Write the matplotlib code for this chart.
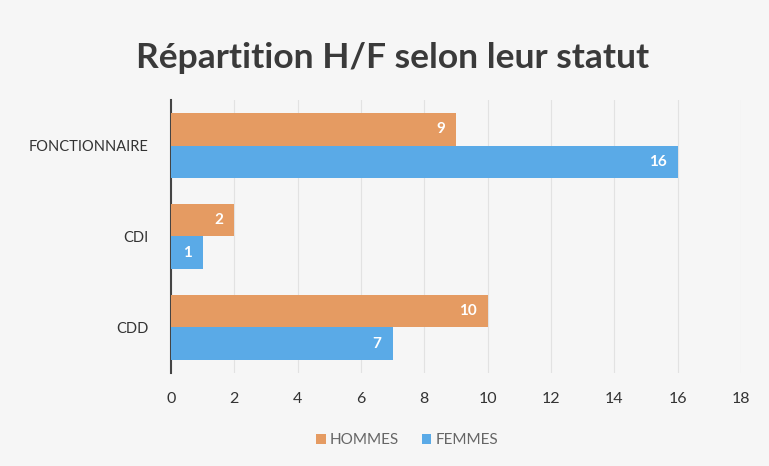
import matplotlib.pyplot as plt
import numpy as np

categories = ['CDD', 'CDI', 'FONCTIONNAIRE']
hommes = [10, 2, 9]
femmes = [7, 1, 16]
xticks = [0, 2, 4, 6, 8, 10, 12, 14, 16, 18]

orange = '#E59B62'
blue = '#5AAAE7'

plt.rcParams['font.family'] = ['Lato', 'DejaVu Sans']

fig = plt.figure(figsize=(7.69, 4.66), dpi=100, facecolor='#f6f6f6')
ax = fig.add_axes([0.2224, 0.2, 0.7412, 0.585])
ax.set_facecolor('#f6f6f6')

y = np.arange(len(categories))
h = 0.36
bh = ax.barh(y + h / 2, hommes, height=h, color=orange, label='HOMMES', zorder=3)
bf = ax.barh(y - h / 2, femmes, height=h, color=blue, label='FEMMES', zorder=3)

for bars in (bh, bf):
    for rect in bars:
        w = rect.get_width()
        ax.text(w - 0.35, rect.get_y() + rect.get_height() / 2, str(int(w)),
                ha='right', va='center', color='white', fontweight='bold',
                fontsize=11, zorder=4)

ax.set_xlim(0, 18)
ax.set_ylim(-0.5, 2.5)
ax.set_xticks(xticks)
ax.set_yticks(y)
ax.set_yticklabels(categories)
ax.tick_params(axis='x', length=0, pad=14, labelsize=11.5, colors='#333333')
ax.tick_params(axis='y', length=0, pad=16, labelsize=10.5, colors='#333333')
ax.grid(axis='x', color='#e2e2e2', linewidth=0.8, zorder=0)
for s in ['top', 'right', 'bottom']:
    ax.spines[s].set_visible(False)
ax.spines['left'].set_color('#444444')
ax.spines['left'].set_linewidth(1.5)

fig.suptitle('Répartition H/F selon leur statut', x=0.51, y=0.91, fontsize=25.5,
             fontweight='bold', color='#3a3a3a')

fig.legend(handles=[bh, bf], loc='center', bbox_to_anchor=(0.53, 0.055), ncol=2,
           frameon=False, fontsize=11, handlelength=0.6, handleheight=0.6,
           handletextpad=0.3, columnspacing=1.5, labelcolor='#666666')

plt.savefig('out.png', dpi=100, facecolor=fig.get_facecolor())
plt.close()
